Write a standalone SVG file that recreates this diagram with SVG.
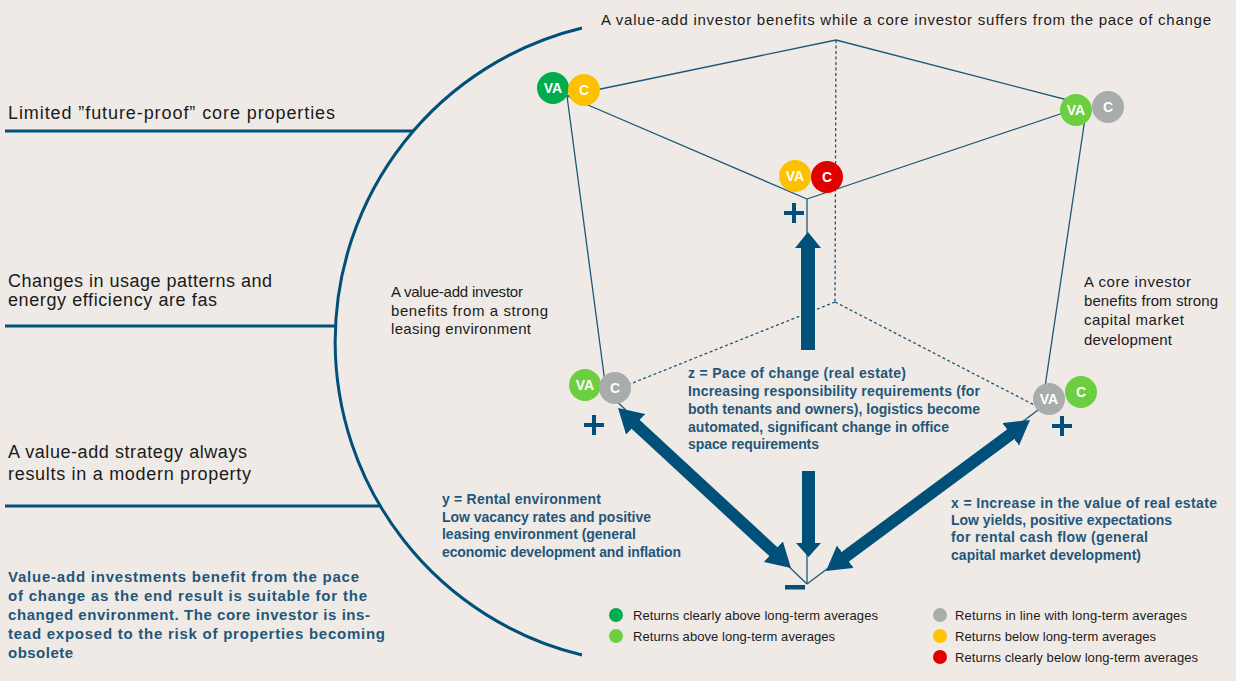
<svg xmlns="http://www.w3.org/2000/svg" width="1236" height="681" viewBox="0 0 1236 681">
<style>
.bk{font-family:"Liberation Sans",Arial,sans-serif;fill:#1a1a1a}
.big{font-size:18px}
.mid{font-size:15px}
.bl{font-family:"Liberation Sans",Arial,sans-serif;fill:#1f577a;font-size:14px;font-weight:bold}
.blt{font-family:"Liberation Sans",Arial,sans-serif;fill:#1f577a;font-size:15px;font-weight:bold}
.leg{font-family:"Liberation Sans",Arial,sans-serif;fill:#1a1a1a;font-size:13px}
.edge{stroke:#1b5878;stroke-width:1.3;fill:none}
.dash{stroke:#1b5878;stroke-width:1.3;fill:none;stroke-dasharray:3 2.5}
.thick{stroke:#00507a;stroke-width:3;fill:none}
.arr{fill:#00507a}
.ct{font-family:"Liberation Sans",Arial,sans-serif;font-size:14px;font-weight:bold;fill:#fff;text-anchor:middle}
</style>
<defs>
<marker id="ah" markerUnits="userSpaceOnUse" viewBox="0 0 24 28" markerWidth="24" markerHeight="28" refX="4" refY="14" orient="auto-start-reverse">
<path d="M0,0 L24,14 L0,28 Z" fill="#00507a"/>
</marker>
</defs>
<rect width="1236" height="681" fill="#f0eae7"/>

<g id="left-panel">
<path class="thick" d="M582,28 A322.5,322.5 0 0 0 582,655"/>
<line class="thick" x1="5" y1="131" x2="413" y2="131" stroke-width="2.5"/>
<line class="thick" x1="5" y1="326" x2="336" y2="326" stroke-width="2.5"/>
<line class="thick" x1="5" y1="506" x2="380" y2="506" stroke-width="2.5"/>
<text class="bk big" x="8" y="119" textLength="327" lengthAdjust="spacing">Limited ”future-proof” core properties</text>
<text class="bk big" x="8" y="287" textLength="264" lengthAdjust="spacing">Changes in usage patterns and</text>
<text class="bk big" x="8" y="306" textLength="209" lengthAdjust="spacing">energy efficiency are fas</text>
<text class="bk big" x="8" y="458" textLength="239" lengthAdjust="spacing">A value-add strategy always</text>
<text class="bk big" x="8" y="480" textLength="243" lengthAdjust="spacing">results in a modern property</text>
<text class="blt" x="8" y="582" textLength="351" lengthAdjust="spacing">Value-add investments benefit from the pace</text>
<text class="blt" x="8" y="601" textLength="359" lengthAdjust="spacing">of change as the end result is suitable for the</text>
<text class="blt" x="8" y="620" textLength="362" lengthAdjust="spacing">changed environment. The core investor is ins-</text>
<text class="blt" x="8" y="639" textLength="377" lengthAdjust="spacing">tead exposed to the risk of properties becoming</text>
<text class="blt" x="8" y="658" textLength="65" lengthAdjust="spacing">obsolete</text>
</g>

<g id="connectors">
<line class="edge" x1="836" y1="40" x2="567" y2="96"/>
<line class="edge" x1="836" y1="40" x2="1087" y2="105"/>
<line class="edge" x1="567" y1="96" x2="807" y2="199"/>
<line class="edge" x1="1087" y1="105" x2="807" y2="199"/>
<line class="edge" x1="567" y1="96" x2="606" y2="390"/>
<line class="edge" x1="1087" y1="105" x2="1042" y2="407"/>
<line class="edge" x1="807" y1="199" x2="807" y2="240"/>
<line class="edge" x1="807" y1="545" x2="807" y2="584"/>
<line class="edge" x1="807" y1="584" x2="607" y2="392"/>
<line class="edge" x1="807" y1="584" x2="1042" y2="407"/>
<line class="dash" x1="836" y1="40" x2="835" y2="302"/>
<line class="dash" x1="835" y1="302" x2="615" y2="390"/>
<line class="dash" x1="835" y1="302" x2="1042" y2="409"/>
<line x1="632.7" y1="421.6" x2="776.3" y2="554.4" stroke="#00507a" stroke-width="12" marker-start="url(#ah)" marker-end="url(#ah)"/>
<line x1="1013.9" y1="431.9" x2="842.1" y2="559.1" stroke="#00507a" stroke-width="12" marker-start="url(#ah)" marker-end="url(#ah)"/>
<path class="arr" d="M808,232 L821,248 L815,248 L815,350 L801,350 L801,248 L795,248 Z"/>
<path class="arr" d="M802,471 L815,471 L815,543 L821,543 L808.5,557 L796,543 L802,543 Z"/>
<rect class="arr" x="785" y="585" width="20" height="4.5"/>
<rect class="arr" x="792" y="203" width="4" height="20"/>
<rect class="arr" x="784" y="211" width="20" height="4"/>
<rect class="arr" x="592" y="415" width="4" height="20"/>
<rect class="arr" x="584" y="423" width="20" height="4"/>
<rect class="arr" x="1060" y="416" width="4" height="20"/>
<rect class="arr" x="1052" y="424" width="20" height="4"/>
</g>

<g id="node-top-left">
<circle cx="553" cy="88" r="16" fill="#00ad4e"/>
<circle cx="584" cy="90" r="16" fill="#fcc200"/>
<text class="ct" x="553" y="93">VA</text>
<text class="ct" x="584" y="95">C</text>
</g>
<g id="node-top-front">
<circle cx="795" cy="176" r="16" fill="#fcc200"/>
<circle cx="827" cy="177" r="16" fill="#e00000"/>
<text class="ct" x="795" y="181">VA</text>
<text class="ct" x="827" y="182">C</text>
</g>
<g id="node-top-right">
<circle cx="1076" cy="110" r="16" fill="#6ccf3f"/>
<circle cx="1108" cy="107" r="16" fill="#a8acab"/>
<text class="ct" x="1076" y="115">VA</text>
<text class="ct" x="1108" y="112">C</text>
</g>
<g id="node-bottom-left">
<circle cx="585" cy="385" r="16" fill="#6ccf3f"/>
<circle cx="615" cy="388" r="16" fill="#a8acab"/>
<text class="ct" x="585" y="390">VA</text>
<text class="ct" x="615" y="393">C</text>
</g>
<g id="node-bottom-right">
<circle cx="1049" cy="399" r="16" fill="#a8acab"/>
<circle cx="1081" cy="392" r="16" fill="#6ccf3f"/>
<text class="ct" x="1049" y="404">VA</text>
<text class="ct" x="1081" y="397">C</text>
</g>

<g id="labels">
<text class="bk mid" x="601" y="25" textLength="610" lengthAdjust="spacing">A value-add investor benefits while a core investor suffers from the pace of change</text>
<text class="bk mid" x="391" y="297" textLength="132" lengthAdjust="spacing">A value-add investor</text>
<text class="bk mid" x="391" y="316" textLength="157" lengthAdjust="spacing">benefits from a strong</text>
<text class="bk mid" x="391" y="334" textLength="140" lengthAdjust="spacing">leasing environment</text>
<text class="bk mid" x="1084" y="287" textLength="107" lengthAdjust="spacing">A core investor</text>
<text class="bk mid" x="1084" y="306" textLength="134" lengthAdjust="spacing">benefits from strong</text>
<text class="bk mid" x="1084" y="325" textLength="100" lengthAdjust="spacing">capital market</text>
<text class="bk mid" x="1084" y="345" textLength="88" lengthAdjust="spacing">development</text>
</g>

<g id="label-z">
<text class="bl" x="688" y="378" textLength="218" lengthAdjust="spacing">z = Pace of change (real estate)</text>
<text class="bl" x="688" y="396" textLength="292" lengthAdjust="spacing">Increasing responsibility requirements (for</text>
<text class="bl" x="688" y="414" textLength="292" lengthAdjust="spacing">both tenants and owners), logistics become</text>
<text class="bl" x="688" y="432" textLength="261" lengthAdjust="spacing">automated, significant change in office</text>
<text class="bl" x="688" y="449" textLength="131" lengthAdjust="spacing">space requirements</text>
</g>
<g id="label-y">
<text class="bl" x="442" y="504" textLength="159" lengthAdjust="spacing">y = Rental environment</text>
<text class="bl" x="442" y="522" textLength="209" lengthAdjust="spacing">Low vacancy rates and positive</text>
<text class="bl" x="442" y="539" textLength="194" lengthAdjust="spacing">leasing environment (general</text>
<text class="bl" x="442" y="557" textLength="239" lengthAdjust="spacing">economic development and inflation</text>
</g>
<g id="label-x">
<text class="bl" x="951" y="508" textLength="266" lengthAdjust="spacing">x = Increase in the value of real estate</text>
<text class="bl" x="951" y="525" textLength="221" lengthAdjust="spacing">Low yields, positive expectations</text>
<text class="bl" x="951" y="542" textLength="197" lengthAdjust="spacing">for rental cash flow (general</text>
<text class="bl" x="951" y="560" textLength="190" lengthAdjust="spacing">capital market development)</text>
</g>

<g id="legend">
<circle cx="616" cy="615" r="7" fill="#00ad4e"/>
<circle cx="616" cy="636" r="7" fill="#6ccf3f"/>
<circle cx="940" cy="615" r="7" fill="#a8acab"/>
<circle cx="940" cy="636" r="7" fill="#fcc200"/>
<circle cx="940" cy="657" r="7" fill="#e00000"/>
<text class="leg" x="633" y="620" textLength="245" lengthAdjust="spacing">Returns clearly above long-term averages</text>
<text class="leg" x="633" y="641" textLength="202" lengthAdjust="spacing">Returns above long-term averages</text>
<text class="leg" x="955" y="620" textLength="232" lengthAdjust="spacing">Returns in line with long-term averages</text>
<text class="leg" x="955" y="641" textLength="201" lengthAdjust="spacing">Returns below long-term averages</text>
<text class="leg" x="955" y="662" textLength="243" lengthAdjust="spacing">Returns clearly below long-term averages</text>
</g>
</svg>
